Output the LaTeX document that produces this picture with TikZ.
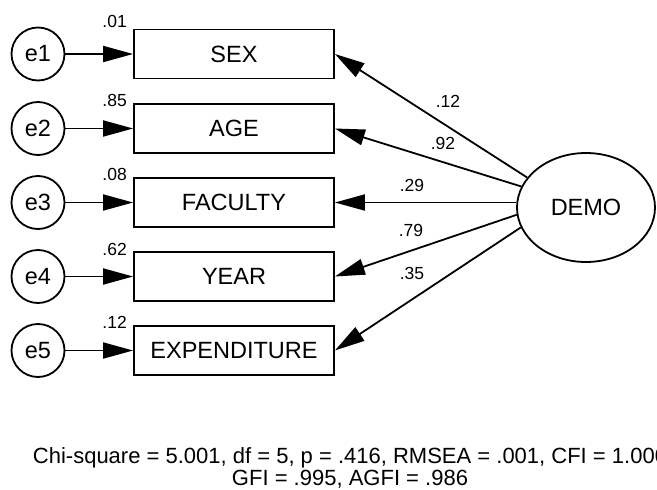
\documentclass[tikz,border=0pt]{standalone}
\usepackage{fontspec}
\setmainfont{Liberation Sans}
\usetikzlibrary{arrows.meta,shapes.geometric}
\tikzset{
  obs/.style={draw, line width=1.8pt, minimum width=200pt, minimum height=49pt, inner sep=0pt, font=\fontsize{23.5}{28}\selectfont},
  err/.style={draw, circle, line width=1.8pt, minimum size=53pt, inner sep=0pt, font=\fontsize{23.5}{28}\selectfont},
  lat/.style={draw, ellipse, line width=1.8pt, minimum width=138pt, minimum height=109pt, inner sep=0pt, font=\fontsize{23.5}{28}\selectfont},
  arr/.style={line width=1.8pt, -{Triangle[length=30pt,width=16pt]}},
  num/.style={inner sep=0pt, font=\fontsize{17.5}{20}\selectfont},
  fit/.style={inner sep=0pt, font=\fontsize{22}{24}\selectfont}
}
\begin{document}
\begin{tikzpicture}[x=1pt,y=-1pt]
\useasboundingbox (0,0) rectangle (657,490);
% observed variables
\node[obs] (sex) at (234,54) {SEX};
\node[obs] (age) at (234,128.5) {AGE};
\node[obs] (fac) at (234,202.5) {FACULTY};
\node[obs] (year) at (234,276.5) {YEAR};
\node[obs] (exp) at (234,350.5) {EXPENDITURE};
% error terms
\node[err] (e1) at (38,54) {e1};
\node[err] (e2) at (38,128.5) {e2};
\node[err] (e3) at (38,202.5) {e3};
\node[err] (e4) at (38,276.5) {e4};
\node[err] (e5) at (38,350.5) {e5};
% latent
\node[lat] (demo) at (586,207.5) {DEMO};
% error arrows
\draw[arr] (e1) -- (sex);
\draw[arr] (e2) -- (age);
\draw[arr] (e3) -- (fac);
\draw[arr] (e4) -- (year);
\draw[arr] (e5) -- (exp);
% loadings
\draw[arr] (demo.153.4) -- (sex.east);
\draw[arr] (demo.162.7) -- (age.east);
\draw[arr] (demo.west |- fac.east) -- (fac.east);
\draw[arr] (demo.186.3) -- (year.east);
\draw[arr] (demo.197.3) -- (exp.east);
% squared multiple correlations
\node[num, anchor=base east] (r1) at (127,27) {.01};
\node[num, anchor=base east] (r2) at (127,106) {.85};
\node[num, anchor=base east] (r3) at (127,180) {.08};
\node[num, anchor=base east] (r4) at (127,255) {.62};
\node[num, anchor=base east] (r5) at (127,328) {.12};
% loading labels
\node[num, anchor=base] (l1) at (448,107) {.12};
\node[num, anchor=base] (l2) at (443,149) {.92};
\node[num, anchor=base] (l3) at (412,191) {.29};
\node[num, anchor=base] (l4) at (411,236) {.79};
\node[num, anchor=base] (l5) at (412,279) {.35};
% fit statistics
\node[fit, anchor=base] (chi) at (350,463) {Chi-square = 5.001, df = 5, p = .416, RMSEA = .001, CFI = 1.000};
\node[fit, anchor=base] (gfi) at (350,485) {GFI = .995, AGFI = .986};
\end{tikzpicture}
\end{document}
